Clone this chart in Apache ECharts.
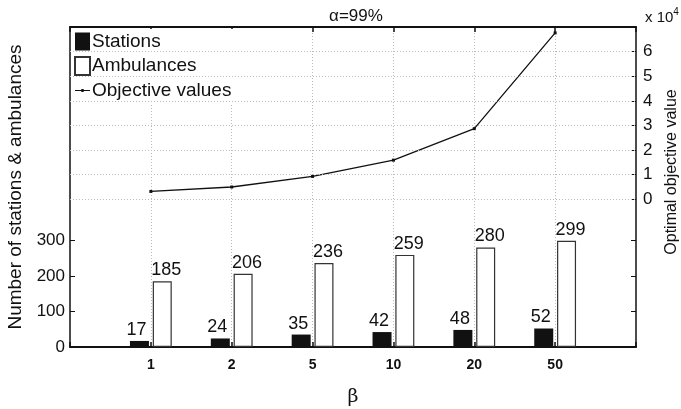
<!DOCTYPE html>
<html>
<head>
<meta charset="utf-8">
<script src="https://cdn.jsdelivr.net/npm/echarts@6/dist/echarts.min.js"></script>
<style>
  html, body { margin: 0; padding: 0; background: #fff; }
  #chart { width: 681px; height: 409px; }
</style>
</head>
<body>
<div id="chart"></div>
<script>
// β values on the horizontal axis
const betaLabels = ['1', '2', '5', '10', '20', '50'];
// number of stations opened for each β
const stations = [17, 24, 35, 42, 48, 52];
// number of ambulances deployed for each β
const ambulances = [185, 206, 236, 259, 280, 299];
// optimal objective value for each β
const objectiveValues = [3200, 5000, 9300, 15900, 28700, 67600];
// labelled ticks on each vertical axis
const leftTicks = [0, 100, 200, 300];
const rightTicks = [0, 10000, 20000, 30000, 40000, 50000, 60000];

const FONT = 'Liberation Sans, Arial, Helvetica, sans-serif';

// axis ranges: counts on the left, objective (×10⁴) on the right
const L_MIN = 0, L_MAX = 900;
const R_MIN = -60000, R_MAX = 70000;

// count ticks repeated on the right edge, expressed on the right scale
const mirroredTicks = leftTicks.slice(1).map(
  v => R_MIN + (v - L_MIN) / (L_MAX - L_MIN) * (R_MAX - R_MIN)
);

// one empty slot on each side so the categories sit at 1..6 of a 0..7 span
const cats = [''].concat(betaLabels, ['']);
const pad = arr => [null].concat(arr, [null]);

// legend glyph for the line series: short stroke with a small dot
const lineIcon = 'path://M0,0h0.01v0.01h-0.01z M0,8.4h15v1.2h-15z M6.3,7.5h2.4v3h-2.4z M14.99,17.99h0.01v0.01h-0.01z';

const chart = echarts.init(document.getElementById('chart'));

chart.setOption({
  animation: false,
  backgroundColor: '#fff',
  textStyle: { fontFamily: FONT, color: '#111' },
  title: {
    text: 'α=99%',
    left: 351,
    textAlign: 'center',
    top: 3,
    textStyle: { fontFamily: FONT, fontSize: 17, fontWeight: 'normal', color: '#111' }
  },
  legend: {
    orient: 'vertical',
    left: 72,
    top: 29,
    padding: [3, 2, 4, 2],
    itemGap: 5,
    itemWidth: 15,
    itemHeight: 18,
    backgroundColor: '#fff',
    textStyle: { fontFamily: FONT, fontSize: 19, color: '#111', padding: [0, 0, 0, -3] },
    data: [
      { name: 'Stations', icon: 'rect' },
      { name: 'Ambulances', icon: 'rect' },
      { name: 'Objective values', icon: lineIcon, itemStyle: { color: '#111' } }
    ]
  },
  grid: {
    left: 70, right: 45, top: 27, bottom: 62,
    containLabel: false,
    outerBoundsMode: 'none'
  },
  xAxis: [
    {
      type: 'category',
      data: cats,
      boundaryGap: false,
      position: 'bottom',
      name: 'β',
      nameLocation: 'middle',
      nameGap: 41,
      nameTextStyle: { fontFamily: 'DejaVu Serif, serif', fontSize: 19, color: '#111' },
      axisLine: { onZero: false, lineStyle: { color: '#111', width: 2 } },
      axisTick: { inside: true, length: 5, lineStyle: { color: '#111', width: 1.5 } },
      axisLabel: { fontFamily: FONT, fontSize: 14, fontWeight: 'bold', color: '#111', margin: 11 },
      splitLine: {
        show: true, showMinLine: false, showMaxLine: false,
        lineStyle: { color: '#bbb', type: [1, 2], width: 1 }
      }
    },
    {
      type: 'category',
      data: cats,
      boundaryGap: false,
      position: 'top',
      axisLine: { onZero: false, lineStyle: { color: '#111', width: 2 } },
      axisTick: { inside: true, length: 5, lineStyle: { color: '#111', width: 1.5 } },
      axisLabel: { show: false },
      splitLine: { show: false }
    }
  ],
  yAxis: [
    {
      type: 'value',
      position: 'left',
      min: L_MIN,
      max: L_MAX,
      interval: 100,
      axisLine: { show: true, onZero: false, lineStyle: { color: '#111', width: 1.5 } },
      axisTick: { show: true, inside: true, length: 5, customValues: leftTicks, lineStyle: { color: '#111' } },
      axisLabel: { customValues: leftTicks, fontFamily: FONT, fontSize: 17, color: '#111', margin: 5 },
      splitLine: { show: false }
    },
    {
      type: 'value',
      position: 'right',
      min: R_MIN,
      max: R_MAX,
      interval: 10000,
      axisLine: { show: true, onZero: false, lineStyle: { color: '#111', width: 1.5 } },
      axisTick: {
        show: true, inside: true, length: 5,
        customValues: mirroredTicks.concat(rightTicks),
        lineStyle: { color: '#111' }
      },
      axisLabel: {
        customValues: rightTicks,
        fontFamily: FONT, fontSize: 17, color: '#111', margin: 7,
        formatter: v => String(v / 10000)
      },
      splitLine: { show: false }
    }
  ],
  graphic: [
    {
      type: 'text',
      x: 16, y: 187,
      rotation: Math.PI / 2,
      style: {
        text: 'Number of stations & ambulances',
        fontFamily: FONT, fontSize: 19, fill: '#111',
        align: 'center', verticalAlign: 'middle'
      }
    },
    {
      type: 'text',
      x: 672, y: 172,
      rotation: Math.PI / 2,
      style: {
        text: 'Optimal objective value',
        fontFamily: FONT, fontSize: 16, fill: '#111',
        align: 'center', verticalAlign: 'middle'
      }
    },
    {
      type: 'text',
      x: 645, y: 25,
      style: {
        text: '{b|x 10}{s|4}',
        verticalAlign: 'bottom',
        rich: {
          b: { fontFamily: FONT, fontSize: 15, fill: '#111', verticalAlign: 'bottom' },
          s: { fontFamily: FONT, fontSize: 10, fill: '#111', verticalAlign: 'top', padding: [0, 0, 8, 0] }
        }
      }
    }
  ],
  series: [
    {
      // horizontal dotted grid following the objective scale (0 … 6 ×10⁴)
      type: 'line',
      xAxisIndex: 0,
      yAxisIndex: 1,
      data: [],
      silent: true,
      markLine: {
        silent: true,
        symbol: 'none',
        label: { show: false },
        lineStyle: { color: '#bbb', type: [1, 2], width: 1 },
        data: rightTicks.map(v => ({ yAxis: v }))
      },
      z: 0
    },
    {
      name: 'Stations',
      type: 'bar',
      xAxisIndex: 0,
      yAxisIndex: 0,
      data: pad(stations),
      barWidth: 19,
      barGap: '20%',
      itemStyle: { color: '#111' },
      label: { show: true, position: 'top', distance: 2, fontFamily: FONT, fontSize: 18, color: '#111', offset: [-3, 0] },
      z: 3
    },
    {
      name: 'Ambulances',
      type: 'bar',
      xAxisIndex: 0,
      yAxisIndex: 0,
      data: pad(ambulances),
      barWidth: 19,
      itemStyle: { color: '#fff', borderColor: '#333', borderWidth: 1.2 },
      label: { show: true, position: 'top', distance: 2, fontFamily: FONT, fontSize: 18, color: '#111', offset: [4, 0] },
      z: 3
    },
    {
      name: 'Objective values',
      type: 'line',
      xAxisIndex: 0,
      yAxisIndex: 1,
      data: pad(objectiveValues),
      connectNulls: false,
      symbol: 'rect',
      symbolSize: 3,
      showSymbol: true,
      itemStyle: { color: '#111' },
      lineStyle: { color: '#111', width: 1.3 },
      z: 4
    }
  ]
});
</script>
</body>
</html>
